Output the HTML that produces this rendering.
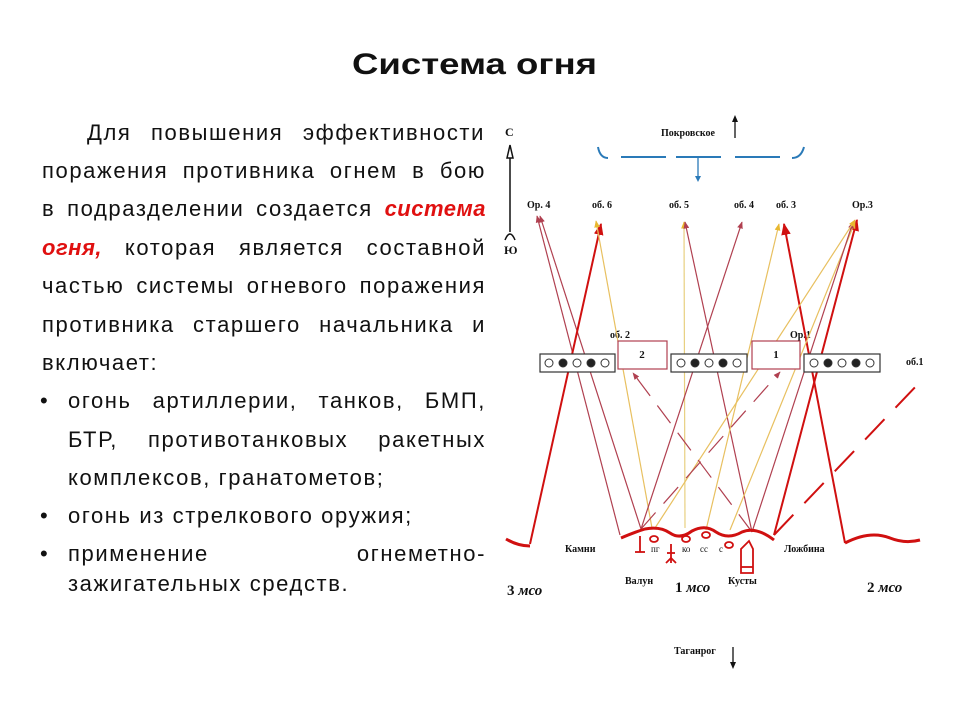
<!DOCTYPE html>
<html><head><meta charset="utf-8"><style>
html,body{margin:0;padding:0;background:#fff;}
svg{display:block;position:absolute;left:0;top:0}
.l{position:absolute;font-family:"Liberation Sans","DejaVu Sans",sans-serif;font-size:22px;letter-spacing:1.6px;color:#111;white-space:nowrap;line-height:26px;height:26px}
.j{text-align:justify;text-align-last:justify;white-space:normal}
.r{color:#e01010;font-weight:bold;font-style:italic;letter-spacing:0.5px}
.s{font-family:"Liberation Serif",serif;font-weight:bold;fill:#111}
</style></head><body>
<div class="l j" style="left:87px;top:120px;width:398px">Для повышения эффективности</div>
<div class="l j" style="left:42px;top:158px;width:444px">поражения противника огнем в бою</div>
<div class="l j" style="left:42px;top:196px;width:444px">в подразделении создается <span class="r">система</span></div>
<div class="l j" style="left:42px;top:235px;width:444px"><span class="r">огня,</span> которая является составной</div>
<div class="l j" style="left:42px;top:273px;width:444px">частью системы огневого поражения</div>
<div class="l j" style="left:42px;top:312px;width:444px">противника старшего начальника и</div>
<div class="l" style="left:42px;top:350px">включает:</div>
<div class="l" style="left:40px;top:388px">•</div>
<div class="l j" style="left:68px;top:388px;width:418px">огонь артиллерии, танков, БМП,</div>
<div class="l j" style="left:68px;top:427px;width:418px">БТР, противотанковых ракетных</div>
<div class="l" style="left:68px;top:465px">комплексов, гранатометов;</div>
<div class="l" style="left:40px;top:503px">•</div>
<div class="l" style="left:68px;top:503px">огонь из стрелкового оружия;</div>
<div class="l" style="left:40px;top:541px">•</div>
<div class="l j" style="left:68px;top:541px;width:418px">применение огнеметно-</div>
<div class="l" style="left:68px;top:571px">зажигательных средств.</div>

<svg width="960" height="720" viewBox="0 0 960 720" xmlns="http://www.w3.org/2000/svg">
<defs>
<marker id="ar" viewBox="0 0 10 10" refX="9" refY="5" markerWidth="6" markerHeight="6" orient="auto-start-reverse"><path d="M0,1 L10,5 L0,9 z" fill="#d01010"/></marker>
<marker id="ay" viewBox="0 0 10 10" refX="9" refY="5" markerWidth="6" markerHeight="6" orient="auto-start-reverse"><path d="M0,1 L10,5 L0,9 z" fill="#e8b830"/></marker>
<marker id="ab" viewBox="0 0 10 10" refX="9" refY="5" markerWidth="6" markerHeight="6" orient="auto-start-reverse"><path d="M0,1 L10,5 L0,9 z" fill="#b04050"/></marker>
</defs>
<text x="352" y="74" textLength="245" lengthAdjust="spacingAndGlyphs" style="font-family:'Liberation Sans',sans-serif;font-weight:bold;font-size:30px" fill="#111">Система огня</text>

<!-- compass -->
<line x1="510" y1="150" x2="510" y2="232" stroke="#111" stroke-width="1.5"/>
<path d="M507,158 L510,145 L513,158 z" fill="#fff" stroke="#111" stroke-width="1.5"/>
<path d="M505,240 Q510,228 515,240" fill="none" stroke="#111" stroke-width="1.5"/>
<text x="505" y="136" class="s" font-size="12">С</text>
<text x="504" y="254" class="s" font-size="12">Ю</text>

<!-- top -->
<text x="661" y="136" class="s" font-size="10">Покровское</text>
<line x1="735" y1="138" x2="735" y2="118" stroke="#111" stroke-width="1.3"/>
<path d="M732,122 L735,115 L738,122z" fill="#111"/>
<g stroke="#2a7ab8" stroke-width="2" fill="none">
<path d="M598,147 Q600,158 608,158"/>
<line x1="621" y1="157" x2="666" y2="157"/>
<line x1="676" y1="157" x2="721" y2="157"/>
<line x1="735" y1="157" x2="780" y2="157"/>
<path d="M792,158 Q801,158 804,147"/>
<line x1="698" y1="157" x2="698" y2="177" stroke-width="1.3"/>
</g>
<path d="M695,176 L698,182 L701,176z" fill="#2a7ab8"/>

<g class="s" font-size="10">
<text x="527" y="208">Ор. 4</text>
<text x="592" y="208">об. 6</text>
<text x="669" y="208">об. 5</text>
<text x="734" y="208">об. 4</text>
<text x="776" y="208">об. 3</text>
<text x="852" y="208">Ор.3</text>
<text x="610" y="338">об. 2</text>
<text x="790" y="338">Ор.1</text>
<text x="906" y="365">об.1</text>
</g>

<!-- fire lines -->
<g fill="none" stroke-width="1.2">
<line x1="620" y1="535" x2="537" y2="216" stroke="#b04050" marker-end="url(#ab)"/>
<line x1="641" y1="529" x2="540" y2="216" stroke="#b04050" marker-end="url(#ab)"/>
<line x1="530" y1="544" x2="601" y2="224" stroke="#d01010" stroke-width="2" marker-end="url(#ar)"/>
<line x1="652" y1="528" x2="596" y2="221" stroke="#e8c060" marker-end="url(#ay)"/>
<line x1="685" y1="528" x2="684" y2="222" stroke="#e8d080" marker-end="url(#ay)"/>
<line x1="752" y1="532" x2="685" y2="222" stroke="#b04050" marker-end="url(#ab)"/>
<line x1="641" y1="529" x2="742" y2="222" stroke="#b04050" marker-end="url(#ab)"/>
<line x1="706" y1="530" x2="779" y2="224" stroke="#e8c060" marker-end="url(#ay)"/>
<line x1="845" y1="543" x2="784" y2="224" stroke="#d01010" stroke-width="2" marker-end="url(#ar)"/>
<line x1="774" y1="535" x2="857" y2="220" stroke="#d01010" stroke-width="2" marker-end="url(#ar)"/>
<line x1="730" y1="530" x2="855" y2="222" stroke="#e8c060" marker-end="url(#ay)"/>
<line x1="752" y1="532" x2="853" y2="222" stroke="#b04050" marker-end="url(#ab)"/>
<line x1="655" y1="528" x2="855" y2="220" stroke="#e8c060" marker-end="url(#ay)"/>
<line x1="752" y1="532" x2="633" y2="373" stroke="#b04050" stroke-dasharray="22,12" marker-end="url(#ab)"/>
<line x1="641" y1="529" x2="780" y2="372" stroke="#b04050" stroke-dasharray="22,12" marker-end="url(#ab)"/>
<line x1="774" y1="535" x2="920" y2="382" stroke="#d01010" stroke-width="2" stroke-dasharray="28,16"/>
</g>

<!-- boxes -->
<g stroke="#333" stroke-width="1.2" fill="#fff">
<rect x="540" y="354" width="75" height="18"/>
<rect x="671" y="354" width="76" height="18"/>
<rect x="804" y="354" width="76" height="18"/>
</g>
<g stroke="#b04050" stroke-width="1.2" fill="#fff">
<rect x="618" y="341" width="49" height="28"/>
<rect x="752" y="341" width="48" height="28"/>
</g>
<text x="642" y="358" class="s" font-size="11" text-anchor="middle">2</text>
<text x="776" y="358" class="s" font-size="11" text-anchor="middle">1</text>
<g stroke="#333" stroke-width="1">
<circle cx="549" cy="363" r="4" fill="#fff"/><circle cx="563" cy="363" r="4" fill="#222"/><circle cx="577" cy="363" r="4" fill="#fff"/><circle cx="591" cy="363" r="4" fill="#222"/><circle cx="605" cy="363" r="4" fill="#fff"/>
<circle cx="681" cy="363" r="4" fill="#fff"/><circle cx="695" cy="363" r="4" fill="#222"/><circle cx="709" cy="363" r="4" fill="#fff"/><circle cx="723" cy="363" r="4" fill="#222"/><circle cx="737" cy="363" r="4" fill="#fff"/>
<circle cx="814" cy="363" r="4" fill="#fff"/><circle cx="828" cy="363" r="4" fill="#222"/><circle cx="842" cy="363" r="4" fill="#fff"/><circle cx="856" cy="363" r="4" fill="#222"/><circle cx="870" cy="363" r="4" fill="#fff"/>
</g>

<!-- ground -->
<g fill="none" stroke="#d01010" stroke-width="3">
<path d="M506,539 Q518,546 530,546"/>
<path d="M621,538 Q635,532 645,529 Q660,526 670,533 Q680,540 692,531 Q705,524 716,532 Q728,540 742,532 Q756,526 774,540"/>
<path d="M845,543 Q870,530 890,538 Q905,544 920,540"/>
</g>
<g stroke="#d01010" stroke-width="1.8" fill="none">
<line x1="640" y1="536" x2="640" y2="552"/><line x1="635" y1="552" x2="645" y2="552"/>
<ellipse cx="654" cy="539" rx="4" ry="3"/>
<line x1="671" y1="544" x2="671" y2="563"/><line x1="667" y1="553" x2="675" y2="553"/>
<path d="M666,563 L671,558 L676,563"/>
<ellipse cx="686" cy="539" rx="4" ry="3"/>
<ellipse cx="706" cy="535" rx="4" ry="3"/>
<ellipse cx="729" cy="545" rx="4" ry="3"/>
<path d="M741,573 L741,549 L749,541 L753,549 L753,573 z"/><line x1="741" y1="567" x2="753" y2="567"/>
</g>
<g class="s" font-size="10">
<text x="565" y="552">Камни</text>
<text x="651" y="552" font-weight="normal" font-size="9">пг</text>
<text x="682" y="552" font-weight="normal" font-size="9">ко</text>
<text x="700" y="552" font-weight="normal" font-size="9">сс</text>
<text x="719" y="552" font-weight="normal" font-size="9">с</text>
<text x="784" y="552">Ложбина</text>
<text x="625" y="584">Валун</text>
<text x="728" y="584">Кусты</text>
<text x="507" y="595" font-size="15">3 <tspan font-style="italic">мсо</tspan></text>
<text x="675" y="592" font-size="15">1 <tspan font-style="italic">мсо</tspan></text>
<text x="867" y="592" font-size="15">2 <tspan font-style="italic">мсо</tspan></text>
<text x="674" y="654">Таганрог</text>
</g>
<line x1="733" y1="647" x2="733" y2="665" stroke="#111" stroke-width="1.3"/>
<path d="M730,662 L733,669 L736,662z" fill="#111"/>
</svg>
</body></html>
